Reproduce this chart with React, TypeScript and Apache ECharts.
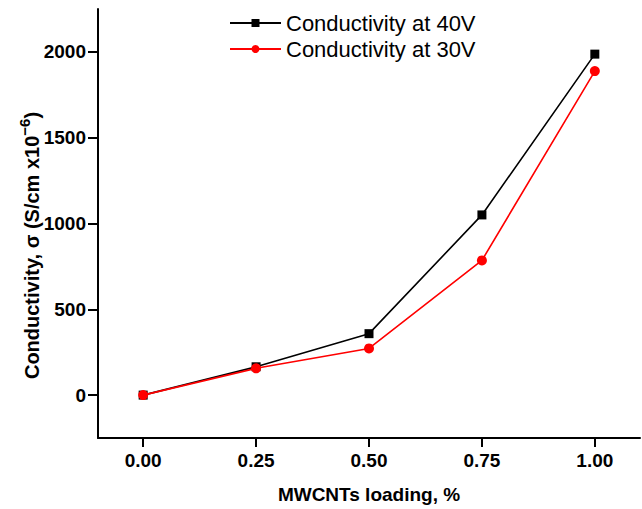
import React, { useEffect, useRef } from "react";
import * as echarts from "echarts";

const xValues = [0, 0.25, 0.5, 0.75, 1.0];
const yTickValues = [0, 500, 1000, 1500, 2000];
const series40V = [0, 165, 358, 1050, 1987];
const series30V = [0, 156, 272, 785, 1888];
const seriesNames = ["Conductivity at 40V", "Conductivity at 30V"];

export default function App() {
  const ref = useRef<HTMLDivElement>(null);
  useEffect(() => {
    if (!ref.current) return;
    const chart = echarts.init(ref.current, null, { renderer: "svg" });
    const font = "Liberation Sans, Arial, sans-serif";
    chart.setOption({
      animation: false,
      backgroundColor: "#ffffff",
      grid: { left: 98, top: 9, right: 2, bottom: 67, containLabel: false },
      legend: {
        left: 229,
        top: 12,
        padding: 0,
        orient: "vertical",
        itemWidth: 51,
        itemHeight: 10,
        itemGap: 4,
        textStyle: { fontFamily: font, fontSize: 22, color: "#000" },
        data: seriesNames,
      },
      xAxis: {
        type: "value",
        min: -0.1,
        max: 1.1,
        interval: 0.25,
        name: "MWCNTs loading, %",
        nameLocation: "middle",
        nameGap: 47,
        nameMoveOverlap: false,
        nameTextStyle: { fontFamily: font, fontWeight: "bold", fontSize: 19, color: "#000" },
        axisLine: { show: true, onZero: false, lineStyle: { color: "#000", width: 2 } },
        axisTick: { show: true, inside: false, length: 9, lineStyle: { color: "#000", width: 2 }, customValues: xValues },
        axisLabel: {
          fontFamily: font,
          fontWeight: "bold",
          fontSize: 19,
          color: "#000",
          margin: 13,
          customValues: xValues,
          formatter: (v: number) => v.toFixed(2),
        },
        splitLine: { show: false },
      },
      yAxis: {
        type: "value",
        min: -250,
        max: 2250,
        interval: 500,
        name: "{a|Conductivity, σ (S/cm x10}{sup|−6}{a|)}",
        nameLocation: "middle",
        nameGap: 52,
        nameMoveOverlap: false,
        nameRotate: 90,
        nameTextStyle: {
          fontFamily: font,
          fontWeight: "bold",
          fontSize: 20,
          color: "#000",
          padding: [0, 44, 0, 0],
          rich: {
            a: { fontFamily: font, fontWeight: "bold", fontSize: 20, color: "#000" },
            sup: { fontFamily: font, fontWeight: "bold", fontSize: 15, color: "#000", padding: [0, 0, 14, 0] },
          },
        },
        axisLine: { show: true, onZero: false, lineStyle: { color: "#000", width: 2 } },
        axisTick: {
          show: true,
          length: 10,
          lineStyle: { color: "#000", width: 2 },
          customValues: yTickValues,
        },
        minorTick: { show: true, splitNumber: 2, length: 5, lineStyle: { color: "#000", width: 2 } },
        axisLabel: {
          fontFamily: font,
          fontWeight: "bold",
          fontSize: 19,
          color: "#000",
          margin: 12,
          customValues: yTickValues,
          formatter: (v: number) => String(v),
        },
        splitLine: { show: false },
      },
      series: [
        {
          name: seriesNames[0],
          type: "line",
          data: xValues.map((x, i) => [x, series40V[i]]),
          symbol: "rect",
          symbolSize: 9,
          itemStyle: { color: "#000000" },
          lineStyle: { color: "#000000", width: 1.6 },
          z: 2,
        },
        {
          name: seriesNames[1],
          type: "line",
          data: xValues.map((x, i) => [x, series30V[i]]),
          symbol: "circle",
          symbolSize: 10,
          itemStyle: { color: "#ff0000" },
          lineStyle: { color: "#ff0000", width: 1.6 },
          z: 3,
        },
      ],
    });
    return () => chart.dispose();
  }, []);
  return (
    <div
      ref={ref}
      style={{ position: "fixed", left: 0, top: 0, width: 642, height: 509, background: "#fff" }}
    />
  );
}
